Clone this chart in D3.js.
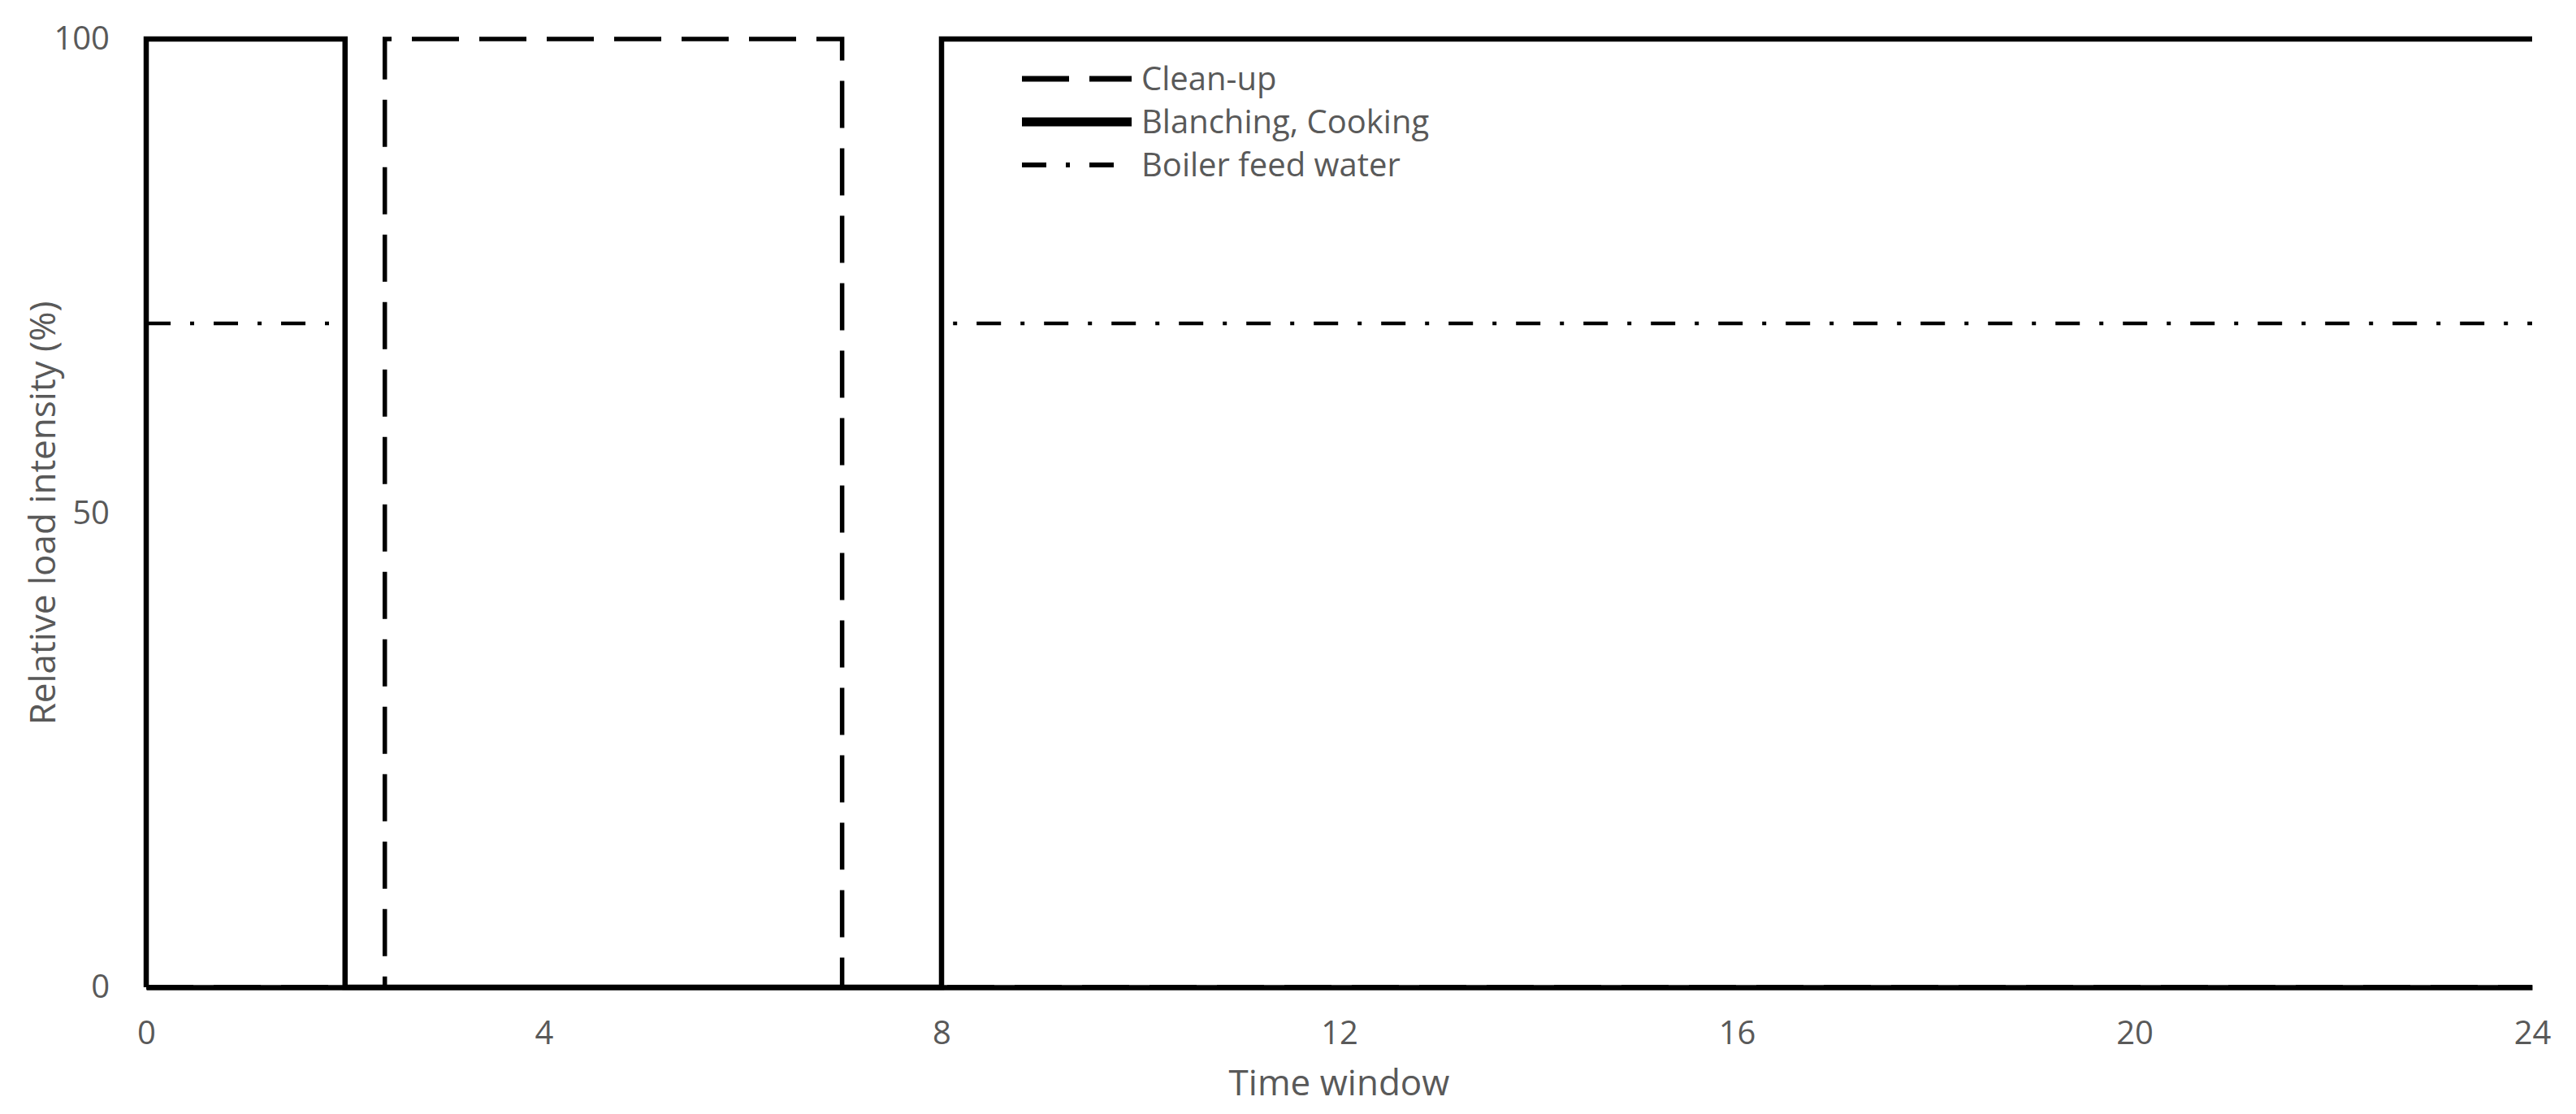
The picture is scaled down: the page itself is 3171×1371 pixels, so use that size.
<!DOCTYPE html>
<html>
<head>
<meta charset="utf-8">
<script src="https://cdn.jsdelivr.net/npm/d3@7"></script>
<style>
  body { margin: 0; background: #fff; }
  text { font-family: "Open Sans", "Noto Sans", sans-serif; fill: #595959; }
</style>
</head>
<body>
<div id="chart"></div>
<script>
// series data (time window, relative load %)
const timeCleanup = [0, 2.4, 2.4, 7, 7, 24];
const loadCleanup = [0, 0, 100, 100, 0, 0];
const timeBlanching = [0, 0, 2, 2, 8, 8, 24];
const loadBlanching = [0, 100, 100, 0, 0, 100, 100];
const timeBoiler = [0, 2, 2, 8, 8, 24];
const loadBoiler = [70, 70, 0, 0, 70, 70];

const seriesNames = ["Clean-up", "Blanching, Cooking", "Boiler feed water"];
const xTicks = [0, 4, 8, 12, 16, 20, 24];
const yTicks = [0, 50, 100];

var W = 3171, H = 1371;
var margin = { top: 48, right: 54, bottom: 156, left: 180 },
    width = W - margin.left - margin.right,
    height = H - margin.top - margin.bottom;

var svg = d3.select("#chart")
    .append("svg")
    .attr("width", W)
    .attr("height", H);

svg.append("rect").attr("width", W).attr("height", H).attr("fill", "#fff");

var g = svg.append("g")
    .attr("transform", "translate(" + margin.left + "," + margin.top + ")");

var x = d3.scaleLinear().domain([0, 24]).range([0, width]);
var y = d3.scaleLinear().domain([0, 100]).range([height, 0]);

// styles per series
var styles = [
    { dash: "58,25", width: 5.5 },
    { dash: null, width: 6.5 },
    { dash: "30,24,5,24", width: 4.5 }
];

function zip(t, v) {
    return t.map(function (d, i) { return [d, v[i]]; });
}
var series = [
    zip(timeCleanup, loadCleanup),
    zip(timeBlanching, loadBlanching),
    zip(timeBoiler, loadBoiler)
];

var line = d3.line()
    .x(function (d) { return x(d[0]); })
    .y(function (d) { return y(d[1]); });

// boiler first, then clean-up, solid on top
[2, 0, 1].forEach(function (i) {
    g.append("path")
        .datum(series[i])
        .attr("fill", "none")
        .attr("stroke", "#000")
        .attr("stroke-width", styles[i].width)
        .attr("stroke-dasharray", styles[i].dash)
        .attr("stroke-linejoin", "miter")
        .attr("d", line);
});

// x axis
var xAxis = g.append("g")
    .attr("transform", "translate(0," + height + ")")
    .call(d3.axisBottom(x).tickValues(xTicks).tickSize(0).tickPadding(42));
xAxis.select(".domain").attr("stroke", "#000").attr("stroke-width", 6.5);
xAxis.selectAll("text").style("font-size", "40px").attr("fill", "#595959");

// y axis
var yAxis = g.append("g")
    .call(d3.axisLeft(y).tickValues(yTicks).tickSize(0).tickPadding(45));
yAxis.select(".domain").remove();
yAxis.selectAll("text").style("font-size", "40px").attr("fill", "#595959");

// axis titles
g.append("text")
    .attr("x", width / 2)
    .attr("y", height + 133)
    .attr("text-anchor", "middle")
    .style("font-size", "44px")
    .text("Time window");

g.append("text")
    .attr("transform", "translate(" + (68 - margin.left) + "," + (height / 2) + ") rotate(-90)")
    .attr("text-anchor", "middle")
    .style("font-size", "44px")
    .text("Relative load intensity (%)");

// legend
var legend = svg.append("g").attr("transform", "translate(1258,97)");
var legendWidths = [7, 11, 6];
seriesNames.forEach(function (name, i) {
    var row = legend.append("g").attr("transform", "translate(0," + (i * 53) + ")");
    row.append("line")
        .attr("x1", 0).attr("x2", 135)
        .attr("stroke", "#000")
        .attr("stroke-width", legendWidths[i])
        .attr("stroke-dasharray", styles[i].dash);
    row.append("text")
        .attr("x", 147)
        .attr("dy", "0.35em")
        .style("font-size", "40px")
        .text(name);
});
</script>
</body>
</html>
